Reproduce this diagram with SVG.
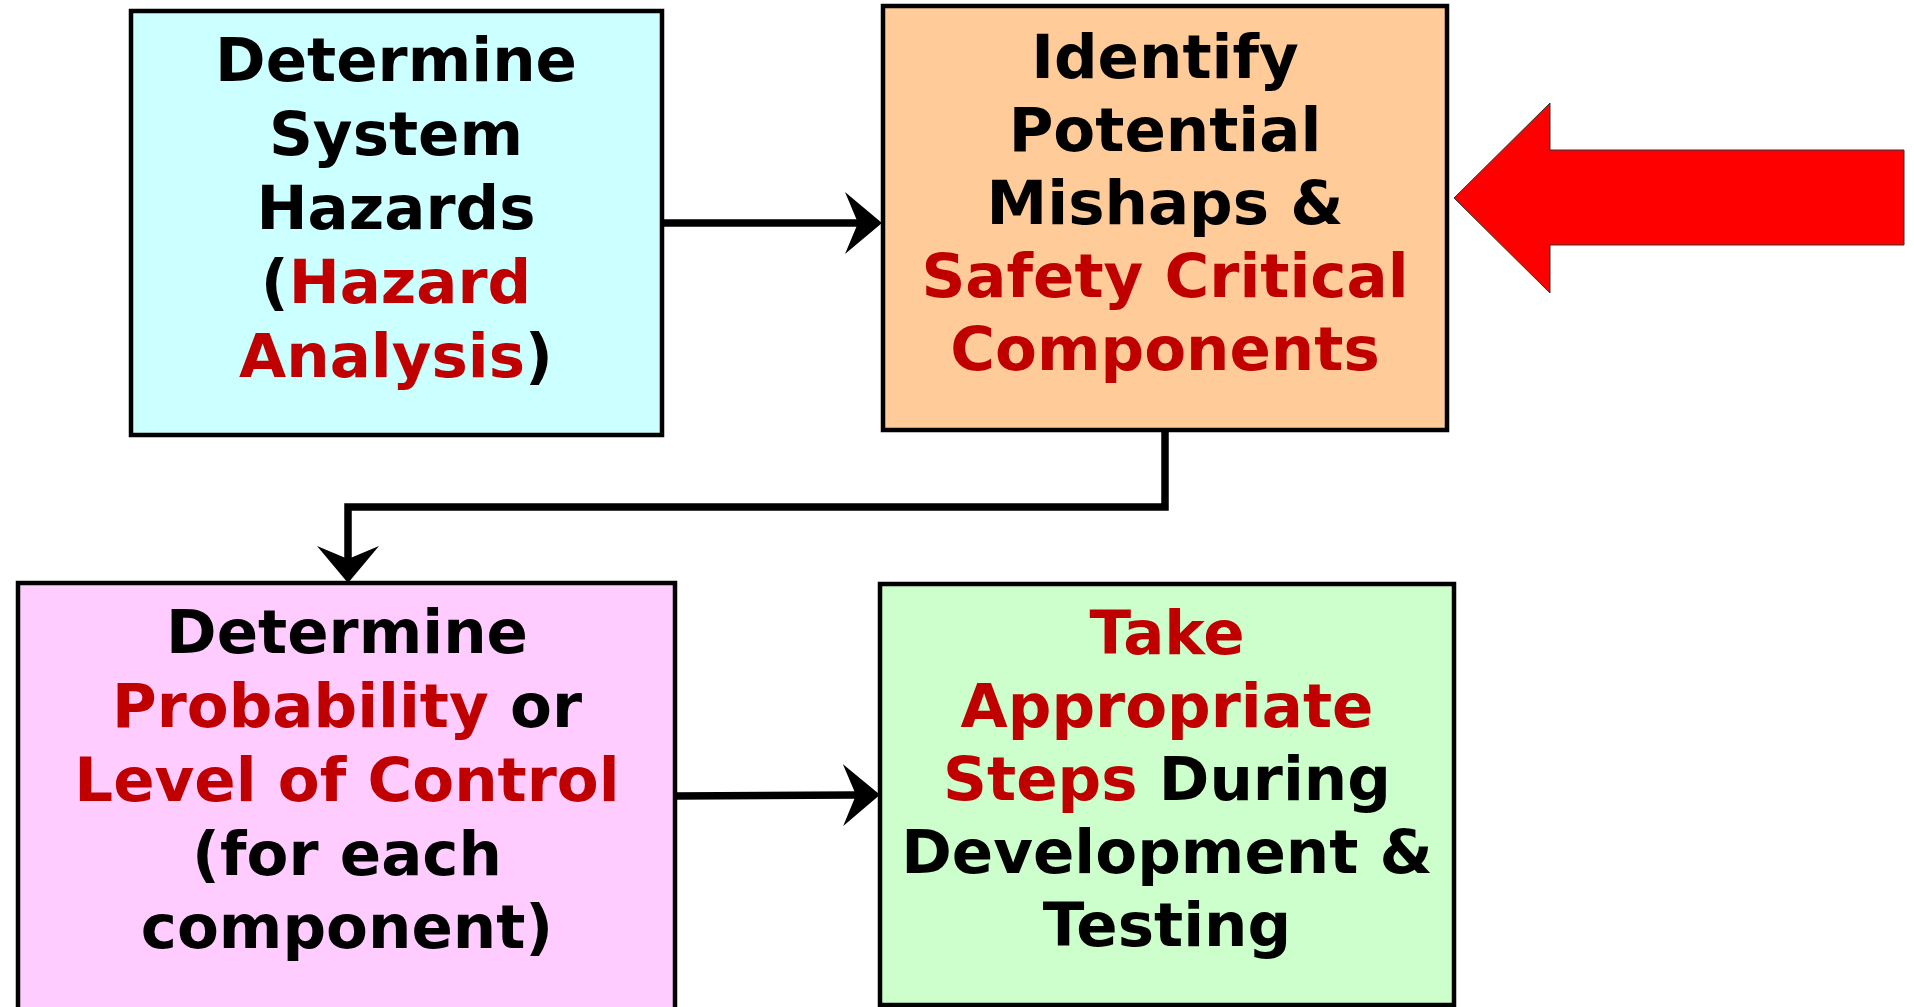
<svg xmlns="http://www.w3.org/2000/svg" width="1914" height="1007" viewBox="0 0 1914 1007">
<defs>
<style>
.box{stroke:#000;stroke-width:4.5}
.t{font-family:"DejaVu Sans","Liberation Sans",sans-serif;font-weight:bold;font-size:61px;fill:#000;text-anchor:middle}
.r{fill:#C00000}
.conn{fill:none;stroke:#000;stroke-width:7.5}
</style>
<marker id="ah" viewBox="-37 -31 37 62" refX="-24" refY="0" markerWidth="37" markerHeight="62" markerUnits="userSpaceOnUse" orient="auto">
<path d="M0,0 L-37,-31 L-24,0 L-37,31 Z" fill="#000"/>
</marker>
</defs>
<rect width="1914" height="1007" fill="#fff"/>
<g id="connectors">
<path class="conn" d="M662,223 L858,223" marker-end="url(#ah)"/>
<path class="conn" d="M1165,430 L1165,507 L348,507 L348,559" marker-end="url(#ah)"/>
<path class="conn" d="M675,796 L856,795" marker-end="url(#ah)"/>
</g>
<g id="node-hazards">
<rect class="box" x="131" y="11" width="531" height="424" fill="#CCFFFF"/>
<text class="t" x="396" y="81">Determine</text>
<text class="t" x="396" y="155">System</text>
<text class="t" x="396" y="229">Hazards</text>
<text class="t" x="396" y="303">(<tspan class="r">Hazard</tspan></text>
<text class="t" x="396" y="377"><tspan class="r">Analysis</tspan>)</text>
</g>
<g id="node-mishaps">
<rect class="box" x="883" y="6" width="564" height="424" fill="#FFCC99"/>
<text class="t" x="1165" y="78">Identify</text>
<text class="t" x="1165" y="151">Potential</text>
<text class="t" x="1165" y="224">Mishaps &amp;</text>
<text class="t r" x="1165" y="297">Safety Critical</text>
<text class="t r" x="1165" y="370">Components</text>
</g>
<g id="node-probability">
<rect class="box" x="18" y="583" width="657" height="432" fill="#FFCCFF"/>
<text class="t" x="347" y="653">Determine</text>
<text class="t" x="347" y="727"><tspan class="r">Probability</tspan> or</text>
<text class="t r" x="347" y="801">Level of Control</text>
<text class="t" x="347" y="875">(for each</text>
<text class="t" x="347" y="948">component)</text>
</g>
<g id="node-steps">
<rect class="box" x="880" y="584" width="574" height="421" fill="#CCFFCC"/>
<text class="t r" x="1167" y="654">Take</text>
<text class="t r" x="1167" y="727">Appropriate</text>
<text class="t" x="1167" y="800"><tspan class="r">Steps</tspan> During</text>
<text class="t" x="1167" y="873">Development &amp;</text>
<text class="t" x="1167" y="946">Testing</text>
</g>
<g id="red-arrow">
<polygon points="1454,198 1550,103 1550,150 1904,150 1904,245 1550,245 1550,293" fill="#FF0000" stroke="#333" stroke-width="1"/>
</g>
</svg>
